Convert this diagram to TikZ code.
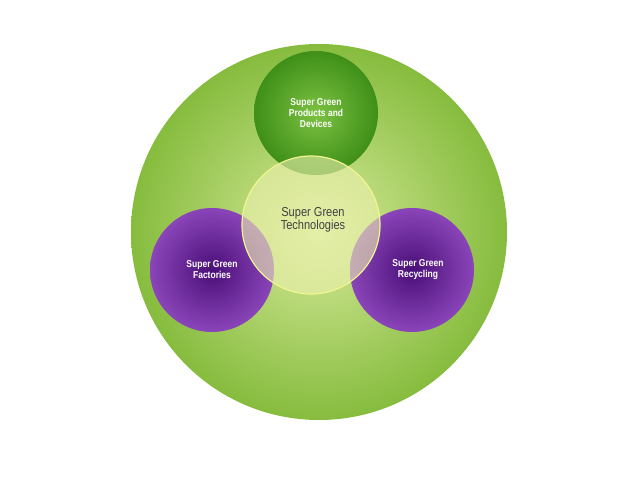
\documentclass[tikz,border=0pt]{standalone}
\usepackage{fontspec}
\setmainfont{Liberation Sans}
\begin{document}
\begin{tikzpicture}[x=1pt,y=-1pt,
  lbl/.style={text=white,font=\bfseries\fontsize{10}{11}\selectfont,align=center,xscale=0.85},
]
\definecolor{bigin}{HTML}{D6E99A}
\definecolor{bigout}{HTML}{86BC3E}
\definecolor{topin}{HTML}{7CC242}
\definecolor{topout}{HTML}{3F8F18}
\definecolor{purin}{HTML}{4A0F78}
\definecolor{purout}{HTML}{8A45B8}
\definecolor{cen}{HTML}{EEF2B0}
\useasboundingbox[fill=white] (0,0) rectangle (638,478);
\shade[inner color=bigin,outer color=bigout] (319,232) circle (188);
\node[circle,minimum size=124pt,inner sep=0,inner color=topin,outer color=topout] (top) at (316,113) {};
\node[circle,minimum size=124pt,inner sep=0,inner color=purin,outer color=purout] (left) at (212,270) {};
\node[circle,minimum size=124pt,inner sep=0,inner color=purin,outer color=purout] (right) at (412,270) {};
\node[circle,minimum size=138pt,inner sep=0,fill=cen,fill opacity=0.6,draw=cen!80!yellow,line width=1.2pt] (cen) at (311,225) {};
\node[lbl] at (top.center) {Super Green\\Products and\\Devices};
\node[lbl] at (left.center) {Super Green\\Factories};
\node[lbl] at ([xshift=6pt]right.center) {Super Green\\Recycling};
\node[text=black!75,font=\fontsize{13}{13.5}\selectfont,align=center,xscale=0.85] at (313,220) {Super Green\\Technologies};
\end{tikzpicture}
\end{document}
